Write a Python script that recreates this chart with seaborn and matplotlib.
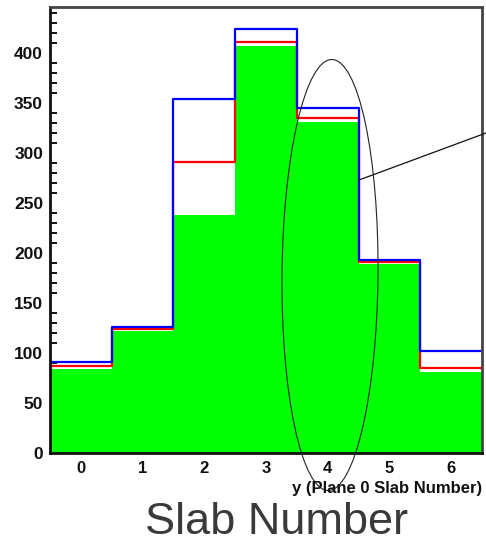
import numpy as np
import pandas as pd
import matplotlib
matplotlib.use("Agg")
import matplotlib.pyplot as plt
from matplotlib.patches import Ellipse
from matplotlib.lines import Line2D
import seaborn as sns

slabs = [0, 1, 2, 3, 4, 5, 6]
blue_counts = [91, 126, 354, 424, 345, 193, 102]
red_counts = [87, 124, 291, 411, 335, 191, 85]
green_counts = [84, 122, 238, 407, 331, 189, 81]
y_ticks = [0, 50, 100, 150, 200, 250, 300, 350, 400]

df = pd.DataFrame({"slab": slabs, "blue": blue_counts, "red": red_counts, "green": green_counts})

sns.set_style("white")
plt.rcParams["font.family"] = ["Liberation Sans", "DejaVu Sans"]

fig = plt.figure(figsize=(4.86, 5.47), dpi=100)
ax = fig.add_axes([50 / 486, 1 - 453 / 547, 432 / 486, 446 / 547])

sns.histplot(data=df, x="slab", weights="green", discrete=True, element="step",
             fill=True, color="#00ff00", alpha=1, linewidth=0, ax=ax)
sns.histplot(data=df, x="slab", weights="red", discrete=True, element="step",
             fill=False, color="#ff0000", linewidth=1.6, ax=ax)
sns.histplot(data=df, x="slab", weights="blue", discrete=True, element="step",
             fill=False, color="#0000ff", linewidth=1.6, ax=ax)

ax.set_xlim(-0.5, 6.5)
ax.set_ylim(0, 446)
ax.set_xticks(slabs)
ax.set_xticklabels([str(s) for s in slabs], fontsize=12, fontweight="bold", color="#111111")
ax.set_yticks(y_ticks)
ax.set_yticklabels([str(v) for v in y_ticks], fontsize=12.5, fontweight="bold", color="#111111")
ax.set_yticks(np.arange(0, 446, 10), minor=True)
ax.tick_params(axis="y", which="major", direction="in", length=9, width=1.6, pad=5, color="#111111")
ax.tick_params(axis="y", which="minor", direction="in", length=5, width=1.4, color="#111111", left=True)
ax.tick_params(axis="x", which="both", length=0, pad=6)
ax.set_ylabel("")
ax.set_xlabel("y (Plane 0 Slab Number)", fontsize=12, fontweight="bold", loc="right",
              labelpad=3, color="#111111")

for side in ["left", "bottom"]:
    ax.spines[side].set_color("#111111")
    ax.spines[side].set_linewidth(2)
for side in ["top", "right"]:
    ax.spines[side].set_color("#444444")
    ax.spines[side].set_linewidth(2)
ax.set_zorder(1)

fig.text(277 / 486, 1 - 522 / 547, "Slab Number", fontsize=32.5, color="#3a3a3a",
         ha="center", va="center")

ell = Ellipse((3.30, 5.47 - 2.75), 0.96, 4.31, angle=-0.5, fill=False,
              edgecolor="#222222", linewidth=0.8, transform=fig.dpi_scale_trans, zorder=5)
fig.add_artist(ell)
line = Line2D([3.59, 4.86], [5.47 - 1.80, 5.47 - 1.33], color="#111111", linewidth=0.9,
              transform=fig.dpi_scale_trans, zorder=5)
fig.add_artist(line)

fig.savefig("out.png", dpi=100)
